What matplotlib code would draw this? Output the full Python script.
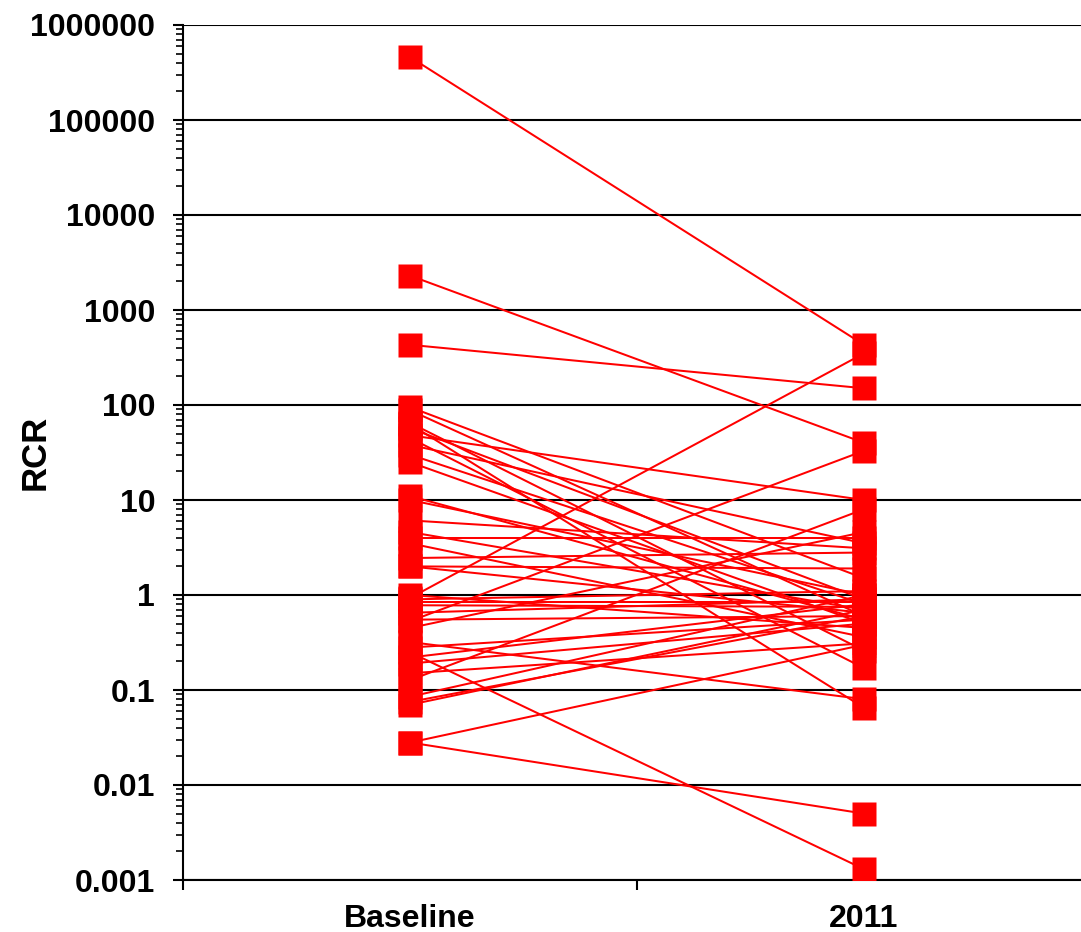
import matplotlib
matplotlib.use('Agg')
import matplotlib.pyplot as plt
from matplotlib.ticker import LogLocator, FuncFormatter, FixedLocator, NullFormatter

plt.rcParams['font.family'] = ['Liberation Sans', 'DejaVu Sans']

# paired RCR values per subject: baseline and 2011
categories = ['Baseline', '2011']
baseline = [460000, 2300, 430, 95, 88, 65, 63, 57, 48, 45, 38, 30, 25,
            11, 10, 6.1, 4.6, 4.0, 3.5, 2.45, 2.0, 2.0,
            1.0, 0.93, 0.9, 0.85, 0.78, 0.65, 0.55, 0.53, 0.45, 0.32,
            0.28, 0.25, 0.22, 0.19, 0.15, 0.127, 0.085, 0.075, 0.07,
            0.028, 0.028]
rcr_2011 = [430, 40, 150, 1.5, 0.6, 0.26, 0.065, 0.9, 10, 0.17, 3.5, 0.8, 0.5,
            0.55, 1.0, 3.1, 0.7, 4.0, 0.36, 2.8, 0.65, 1.9,
            0.45, 350, 1.1, 0.85, 0.75, 0.9, 0.6, 33, 4.6, 0.08,
            0.55, 0.0013, 0.8, 0.5, 0.31, 8, 1.0, 0.6, 0.7,
            0.005, 0.3]
y_ticks = [0.001, 0.01, 0.1, 1, 10, 100, 1000, 10000, 100000, 1000000]

RED = '#ff0000'


def fmt_plain(v, pos=None):
    return '{0:f}'.format(v).rstrip('0').rstrip('.')


def plot_pairs(ax):
    for b, f in zip(baseline, rcr_2011):
        ax.plot([0, 1], [b, f], '-', color=RED, lw=1.45, zorder=3)
    xs = [0] * len(baseline) + [1] * len(rcr_2011)
    ys = baseline + rcr_2011
    ax.plot(xs, ys, 's', color=RED, ms=17, mec='none', zorder=4)


def style_axes(ax):
    ax.set_yscale('log')
    ax.set_ylim(0.001, 1000000)
    ax.set_xlim(-0.5, 1.5)

    ax.yaxis.set_major_locator(FixedLocator(y_ticks))
    ax.yaxis.set_major_formatter(FuncFormatter(fmt_plain))
    ax.yaxis.set_minor_locator(LogLocator(base=10, subs=range(2, 10), numticks=20))
    ax.yaxis.set_minor_formatter(NullFormatter())
    ax.tick_params(axis='y', which='major', direction='out', length=7, width=1.5,
                   pad=13, labelsize=23)
    ax.tick_params(axis='y', which='minor', direction='out', length=5, width=1.2)

    # category boundaries carry the tick marks, names sit at the centres
    ax.set_xticks([-0.5, 0.5, 1.5])
    ax.set_xticklabels([])
    ax.set_xticks([0, 1], minor=True)
    ax.set_xticklabels(categories, minor=True)
    ax.tick_params(axis='x', which='major', direction='out', length=7, width=1.5)
    ax.tick_params(axis='x', which='minor', length=0, pad=17, labelsize=23)

    for lab in ax.get_yticklabels() + ax.get_xticklabels(minor=True):
        lab.set_fontweight('bold')

    ax.grid(True, axis='y', which='major', color='black', lw=1.5, zorder=1)
    ax.set_axisbelow(True)
    for side in ['top', 'right']:
        ax.spines[side].set_visible(False)
    for side in ['left', 'bottom']:
        ax.spines[side].set_linewidth(1.5)


def main():
    fig = plt.figure(figsize=(10.81, 9.32), dpi=100)
    ax = fig.add_axes([183 / 1081, 1 - 880 / 932, 908 / 1081, 855 / 932])
    plot_pairs(ax)
    style_axes(ax)
    fig.text(35 / 1081, 1 - 452 / 932, 'RCR', rotation=90, ha='center', va='center',
             fontsize=25, fontweight='bold')
    fig.savefig('out.png', dpi=100)


main()
